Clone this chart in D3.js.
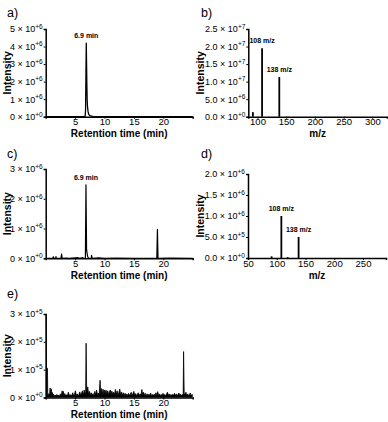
<!DOCTYPE html>
<html><head><meta charset="utf-8">
<script src="https://cdn.jsdelivr.net/npm/d3@7"></script>
<style>
html,body{margin:0;padding:0;background:#fff;}
svg{display:block;font-family:"Liberation Sans",Arial,sans-serif;}
</style></head>
<body>
<svg id="chart" width="388" height="422"></svg>
<script>
// ---------- DATA ----------
const panelLetters = ["a)", "b)", "c)", "d)", "e)"];
const rtTicks = [5, 10, 15, 20];
const mzTicksB = [100, 150, 200, 250, 300];
const mzTicksD = [50, 100, 150, 200, 250];
const yTicksA = [0, 1e6, 2e6, 3e6, 4e6, 5e6];
const yTicksB = [0, 5e6, 1e7, 1.5e7, 2e7, 2.5e7];
const yTicksC = [0, 1e6, 2e6, 3e6];
const yTicksD = [0, 5e5, 1e6, 1.5e6, 2e6];
const yTicksE = [0, 1e5, 2e5, 3e5];

// a) chromatogram [time(min), intensity]
const chromA = [[0,0],[6.7,0],[6.78,400000],[6.84,2300000],[6.9,4200000],[6.95,3000000],[7.0,1800000],[7.05,1000000],[7.1,600000],[7.2,300000],[7.3,150000],[7.5,60000],[8.0,20000],[9.0,5000],[10,0],[25,0]];
const peakA = [[6.9, 4200000, "6.9 min"]];
// b) mass spectrum [m/z, intensity]
const specB = [[92,1300000],[108,19500000],[138,11300000]];
const specBLabels = [[108,"108 m/z"],[138,"138 m/z"]];
// c) chromatogram
const chromC = [[0,0],[1.2,0],[1.3,50000],[1.4,0],[1.7,0],[1.75,60000],[1.8,0],[2.6,0],[2.7,140000],[2.8,0],[3.5,10000],[4.0,0],[5.5,20000],[5.8,0],[6.3,20000],[6.5,0],[6.75,0],[6.85,2470000],[6.95,300000],[7.05,150000],[7.15,50000],[7.3,0],[7.75,0],[7.8,100000],[7.9,0],[9,15000],[10,0],[12,10000],[15,0],[18.9,0],[19.0,970000],[19.1,0],[21,10000],[25,0]];
const peakC = [[6.85, 2470000, "6.9 min"]];
// d) mass spectrum
const specD = [[91,40000],[108,1000000],[119,20000],[138,500000]];
const specDLabels = [[108,"108 m/z"],[138,"138 m/z"]];
// e) chromatogram (noisy)
const chromE = [[0.05,300000],[0.1,5000],[0.15,105000],[0.3,105000],[0.35,6000],
[0.45,9000],[0.55,14000],[0.65,6000],[0.75,34000],[0.85,10000],[0.95,31000],[1.05,7000],[1.15,18000],[1.25,6000],[1.35,12000],[1.45,4000],[1.6,9000],[1.75,5000],[1.9,11000],[2.05,5000],[2.2,9000],[2.35,4000],[2.5,13000],[2.65,6000],[2.8,24000],[2.9,7000],[3.0,22000],[3.1,6000],[3.25,14000],[3.4,5000],[3.55,10000],[3.7,6000],[3.85,19000],[4.0,7000],[4.15,11000],[4.3,5000],[4.45,9000],[4.6,17000],[4.75,6000],[4.9,12000],[5.05,24000],[5.2,7000],[5.35,13000],[5.5,6000],[5.65,11000],[5.8,20000],[5.95,8000],[6.1,15000],[6.25,24000],[6.4,8000],[6.55,27000],[6.7,12000],[6.8,20000],[6.87,195000],[6.95,45000],[7.05,18000],[7.15,38000],[7.3,10000],[7.45,22000],[7.6,8000],[7.75,17000],[7.9,7000],[8.05,14000],[8.2,6000],[8.35,22000],[8.5,9000],[8.65,27000],[8.8,10000],[8.95,16000],[9.1,12000],[9.25,62000],[9.35,14000],[9.5,32000],[9.6,10000],[9.75,30000],[9.9,12000],[10.0,26000],[10.1,11000],[10.25,27000],[10.4,12000],[10.55,24000],[10.7,10000],[10.85,22000],[11.0,27000],[11.1,11000],[11.25,23000],[11.4,12000],[11.55,19000],[11.7,9000],[11.85,29000],[12.0,11000],[12.15,24000],[12.3,9000],[12.45,18000],[12.6,30000],[12.75,9000],[12.9,20000],[13.05,8000],[13.2,17000],[13.35,7000],[13.5,15000],[13.65,6000],[13.8,13000],[13.95,6000],[14.1,15000],[14.25,7000],[14.4,12000],[14.55,19000],[14.7,7000],[14.85,14000],[15.0,22000],[15.15,7000],[15.3,14000],[15.45,6000],[15.6,12000],[15.75,17000],[15.9,7000],[16.05,13000],[16.2,8000],[16.35,29000],[16.5,9000],[16.65,19000],[16.8,7000],[16.95,15000],[17.1,6000],[17.25,13000],[17.4,6000],[17.55,12000],[17.7,7000],[17.85,16000],[18.0,6000],[18.15,11000],[18.3,5000],[18.45,12000],[18.6,6000],[18.75,17000],[18.9,7000],[19.05,21000],[19.2,7000],[19.35,13000],[19.5,5000],[19.65,11000],[19.8,6000],[19.95,15000],[20.1,7000],[20.25,11000],[20.4,5000],[20.55,12000],[20.7,19000],[20.85,7000],[21.0,13000],[21.15,6000],[21.3,11000],[21.45,5000],[21.6,12000],[21.75,7000],[21.9,15000],[22.05,6000],[22.2,13000],[22.35,5000],[22.5,11000],[22.65,16000],[22.8,7000],[22.95,12000],[23.1,6000],[23.25,11000],[23.38,9000],[23.45,165000],[23.55,14000],[23.7,11000],[23.85,19000],[24.0,6000],[24.15,13000],[24.3,5000],[24.45,12000],[24.6,16000],[24.75,6000],[24.9,11000],[25.0,8000]];

// ---------- DRAWING ----------
const svg = d3.select("#chart");
const FONT_YTICK = 9, FONT_XTICK = 9.5, FONT_TITLE = 10, FONT_YTITLE = 10.5, FONT_NOTE = 7;

function sciLabel(sel, decimals) {
  sel.each(function(v) {
    const t = d3.select(this);
    const exp = v === 0 ? 0 : Math.floor(Math.log10(v) + 1e-9);
    const mant = v === 0 ? 0 : v / Math.pow(10, exp);
    t.text(null);
    t.append("tspan").text(mant.toFixed(decimals) + " \u00d7 10");
    t.append("tspan").attr("dy", "-0.55em").attr("font-size", "6.5px").text("+" + exp);
  });
}

function panel(cfg) {
  const g = svg.append("g");
  const x = d3.scaleLinear().domain(cfg.xDomain).range([cfg.x0, cfg.x1]);
  const y = d3.scaleLinear().domain(cfg.yDomain).range([cfg.y0, cfg.y1]);

  if (cfg.type === "line") {
    const area = d3.area().x(d => x(d[0])).y0(y(0)).y1(d => y(d[1]));
    const line = d3.line().x(d => x(d[0])).y(d => y(d[1]));
    if (cfg.fillOp > 0)
      g.append("path").datum(cfg.data).attr("d", area).attr("fill", "#000").attr("fill-opacity", cfg.fillOp);
    g.append("path").datum(cfg.data).attr("d", line).attr("fill", "none").attr("stroke", "#000").attr("stroke-width", cfg.sw).attr("stroke-linejoin", "round");
  } else {
    g.selectAll("line.stick").data(cfg.data).join("line")
      .attr("x1", d => x(d[0])).attr("x2", d => x(d[0]))
      .attr("y1", y(0)).attr("y2", d => y(d[1]))
      .attr("stroke", "#000").attr("stroke-width", 1.8);
  }

  const ya = g.append("g").attr("transform", `translate(${cfg.x0},0)`)
    .call(d3.axisLeft(y).tickValues(cfg.yTicks).tickSize(2).tickPadding(1));
  ya.selectAll("text").attr("font-size", FONT_YTICK).attr("font-family", "Liberation Sans, Arial, sans-serif").attr("fill", "#000").call(sciLabel, cfg.dec);
  ya.select(".domain").attr("stroke-width", 1.5);

  const xa = g.append("g").attr("transform", `translate(0,${cfg.y0})`)
    .call(d3.axisBottom(x).tickValues(cfg.xTicks).tickSize(2).tickPadding(0).tickFormat(d3.format("d")));
  xa.selectAll("text").attr("font-size", FONT_XTICK).attr("font-family", "Liberation Sans, Arial, sans-serif").attr("fill", "#000");
  xa.select(".domain").attr("stroke-width", 1.5);

  g.append("text").attr("x", (cfg.x0 + cfg.x1) / 2).attr("y", cfg.y0 + 20.5)
    .attr("text-anchor", "middle").attr("font-weight", "bold").attr("font-size", FONT_TITLE).text(cfg.xTitle);
  g.append("text").attr("transform", `translate(${cfg.yTitleX},${(cfg.y0 + cfg.y1) / 2}) rotate(-90)`)
    .attr("text-anchor", "middle").attr("font-weight", "bold").attr("font-size", FONT_YTITLE).text("Intensity");
  g.append("text").attr("x", cfg.lx).attr("y", cfg.ly).attr("font-size", 12.5).text(cfg.letter);

  (cfg.notes || []).forEach(n => {
    g.append("text").attr("x", x(n[0])).attr("y", y(n[1]) - 5)
      .attr("text-anchor", "middle").attr("font-weight", "bold").attr("font-size", FONT_NOTE).text(n[2]);
  });
}

const lookup = (arr, labels) => labels.map(l => [l[0], arr.find(d => d[0] === l[0])[1], l[1]]);

panel({letter: panelLetters[0], lx: 7, ly: 17, type: "line", data: chromA, sw: 1.3, fillOp: 0,
  x0: 45.7, x1: 192.7, y0: 116.7, y1: 29, xDomain: [0, 25], yDomain: [0, 5e6],
  xTicks: rtTicks, yTicks: yTicksA, dec: 0, xTitle: "Retention time (min)", yTitleX: 10.5, notes: peakA});
panel({letter: panelLetters[1], lx: 201, ly: 17, type: "stick", data: specB,
  x0: 248.3, x1: 387, y0: 116.7, y1: 29, xDomain: [84, 325.6], yDomain: [0, 2.5e7],
  xTicks: mzTicksB, yTicks: yTicksB, dec: 1, xTitle: "m/z", yTitleX: 204, notes: lookup(specB, specBLabels)});
panel({letter: panelLetters[2], lx: 7, ly: 158, type: "line", data: chromC, sw: 1.2, fillOp: 0,
  x0: 45.7, x1: 192.7, y0: 258.3, y1: 169, xDomain: [0, 25], yDomain: [0, 3e6],
  xTicks: rtTicks, yTicks: yTicksC, dec: 0, xTitle: "Retention time (min)", yTitleX: 10.5, notes: peakC});
panel({letter: panelLetters[3], lx: 201, ly: 158, type: "stick", data: specD,
  x0: 248, x1: 386, y0: 258, y1: 174, xDomain: [50, 290], yDomain: [0, 2e6],
  xTicks: mzTicksD, yTicks: yTicksD, dec: 1, xTitle: "m/z", yTitleX: 204, notes: lookup(specD, specDLabels)});
panel({letter: panelLetters[4], lx: 7, ly: 298, type: "line", data: chromE, sw: 0.8, fillOp: 1,
  x0: 45.7, x1: 192.7, y0: 397.5, y1: 314, xDomain: [0, 25], yDomain: [0, 3e5],
  xTicks: rtTicks, yTicks: yTicksE, dec: 0, xTitle: "Retention time (min)", yTitleX: 10.5, notes: []});
</script>
</body></html>
